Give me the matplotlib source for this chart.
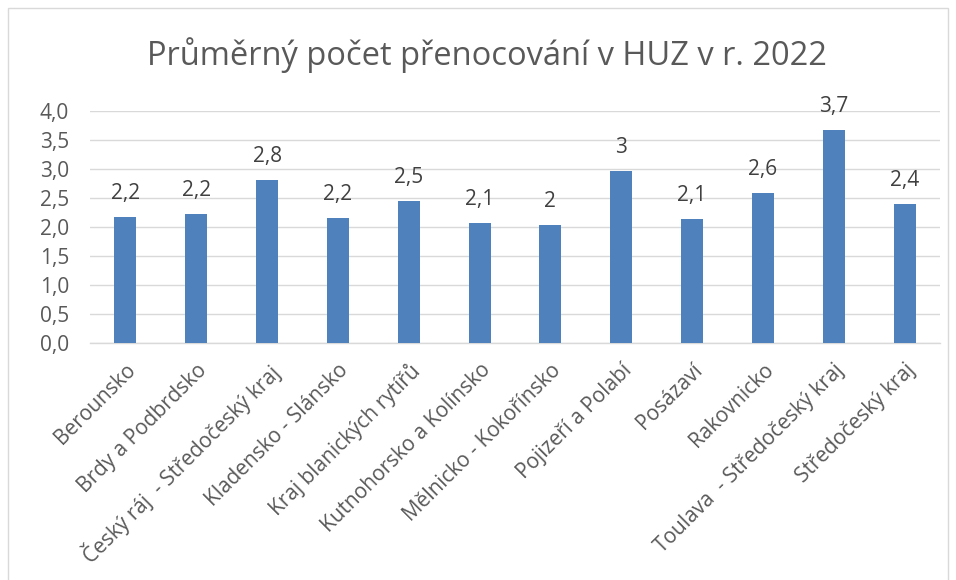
import matplotlib
matplotlib.use('Agg')
import matplotlib.pyplot as plt
from matplotlib.patches import Rectangle

regions = ['Berounsko', 'Brdy a Podbrdsko', 'Český ráj  - Středočeský kraj',
           'Kladensko - Slánsko', 'Kraj blanických rytířů', 'Kutnohorsko a Kolínsko',
           'Mělnicko - Kokořínsko', 'Pojizeří a Polabí', 'Posázaví', 'Rakovnicko',
           'Toulava  - Středočeský kraj', 'Středočeský kraj']
nights = [2.17, 2.22, 2.81, 2.15, 2.45, 2.07, 2.04, 2.97, 2.13, 2.58, 3.67, 2.39]
value_labels = ['2,2', '2,2', '2,8', '2,2', '2,5', '2,1', '2', '3', '2,1', '2,6', '3,7', '2,4']
y_ticks = [0, 0.5, 1.0, 1.5, 2.0, 2.5, 3.0, 3.5, 4.0]

text_gray = '#595959'
plt.rcParams['font.family'] = ['Open Sans', 'DejaVu Sans']

fig = plt.figure(figsize=(9.56, 5.8), dpi=100)
fig.patches.append(Rectangle((8 / 956, -0.1), 940 / 956, 1.1 - 8 / 580, transform=fig.transFigure,
                             fill=False, edgecolor='#d9d9d9', linewidth=1))
ax = fig.add_axes([90 / 956, 1 - 343 / 580, 850 / 956, 232 / 580])

x = range(len(regions))
bars = ax.bar(x, nights, width=0.31, color='#4f81bd', zorder=3)
for b, lab in zip(bars, value_labels):
    ax.annotate(lab, (b.get_x() + b.get_width() / 2, b.get_height()), xytext=(0, 17),
                textcoords='offset points', ha='center', va='center', fontsize=15, color='#404040')

ax.set_xlim(-0.5, len(regions) - 0.5)
ax.set_ylim(0, 4)
ax.set_yticks(y_ticks)
ax.set_yticklabels([f'{t:.1f}'.replace('.', ',') for t in y_ticks])
ax.set_xticks(list(x))
ax.set_xticklabels(regions, rotation=45, ha='right', va='top', rotation_mode='anchor')
ax.tick_params(axis='both', length=0, labelsize=15, labelcolor=text_gray)
ax.tick_params(axis='x', pad=12)
ax.tick_params(axis='y', pad=15)
ax.grid(axis='y', color='#d9d9d9', linewidth=1, zorder=0)
for side in ['top', 'right', 'left']:
    ax.spines[side].set_visible(False)
ax.spines['bottom'].set_color('#d9d9d9')
ax.spines['bottom'].set_linewidth(1)

fig.text(487 / 956, 1 - 55 / 580, 'Průměrný počet přenocování v HUZ v r. 2022', ha='center', va='center',
         fontsize=23.5, color=text_gray)

fig.savefig('out.png', dpi=100)
